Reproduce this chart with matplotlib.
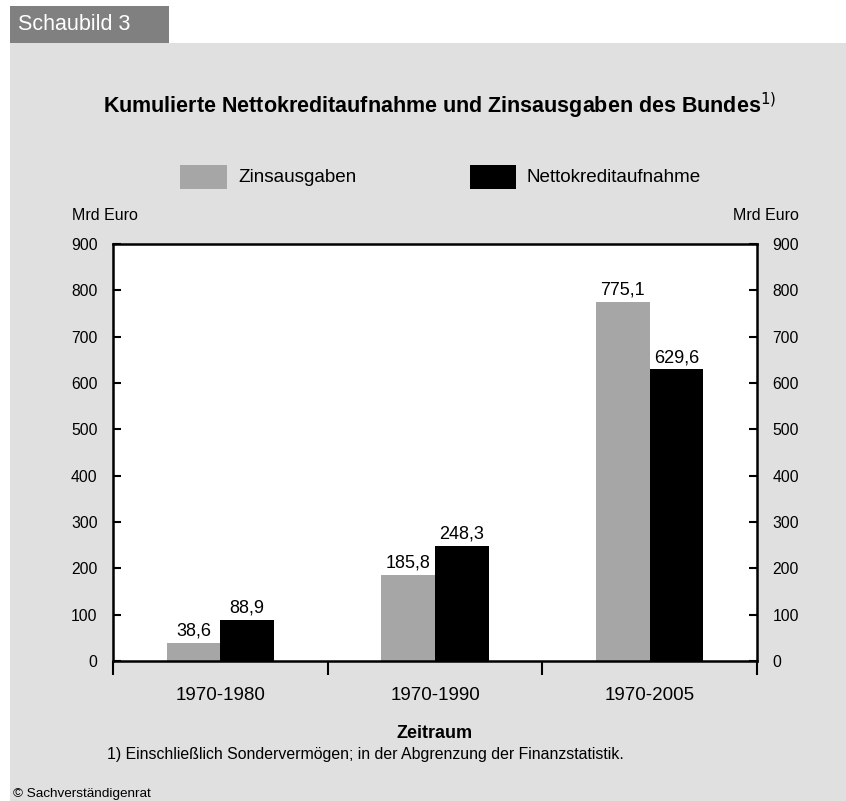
#!/usr/bin/env python3

import matplotlib

matplotlib.use("Agg")
import matplotlib.pyplot as plt
from matplotlib.patches import Rectangle

plt.rcParams["font.family"] = ["Liberation Sans", "DejaVu Sans"]

periods = ["1970-1980", "1970-1990", "1970-2005"]
zinsausgaben = [38.6, 185.8, 775.1]
nettokredit = [88.9, 248.3, 629.6]
y_ticks = [0, 100, 200, 300, 400, 500, 600, 700, 800, 900]

GRAY = "#a6a6a6"
PANEL = "#e0e0e0"

W, H = 846, 801
fig = plt.figure(figsize=(W / 100, H / 100), dpi=100)
fig.patch.set_facecolor("white")


def fx(px):
    return px / W


def fy(py):
    return 1 - py / H


# background panel and header tab
fig.patches.append(
    Rectangle((fx(10), 0), 1 - fx(10), fy(43), transform=fig.transFigure,
              facecolor=PANEL, edgecolor="none", zorder=-10)
)
fig.patches.append(
    Rectangle((fx(10), fy(43)), fx(169) - fx(10), fy(6) - fy(43),
              transform=fig.transFigure, facecolor="#808080", edgecolor="none",
              zorder=-10)
)
fig.text(fx(18), fy(25), "Schaubild 3", color="white", fontsize=15.5,
         va="center", ha="left")

fig.text(fx(103), fy(106), "Kumulierte Nettokreditaufnahme und Zinsausgaben des Bundes$^{1)}$",
         fontsize=15.5, fontweight="bold", ha="left", va="center")

# legend
fig.patches.append(
    Rectangle((fx(180), fy(189)), fx(227) - fx(180), fy(165) - fy(189),
              transform=fig.transFigure, facecolor=GRAY, edgecolor="none")
)
fig.text(fx(238), fy(177), "Zinsausgaben", fontsize=13.6, va="center", ha="left")
fig.patches.append(
    Rectangle((fx(470), fy(189)), fx(516) - fx(470), fy(165) - fy(189),
              transform=fig.transFigure, facecolor="black", edgecolor="none")
)
fig.text(fx(527), fy(177), "Nettokreditaufnahme", fontsize=13.6, va="center", ha="left")

fig.text(fx(72), fy(215), "Mrd Euro", fontsize=11.5, va="center", ha="left")
fig.text(fx(799), fy(215), "Mrd Euro", fontsize=11.5, va="center", ha="right")

ax = fig.add_axes([fx(113), fy(661), fx(757) - fx(113), fy(244) - fy(661)])
ax.set_facecolor("white")

centers = [i + 0.5 for i in range(len(periods))]
bw = 0.25
b1 = ax.bar([c - bw / 2 for c in centers], zinsausgaben, width=bw, color=GRAY)
b2 = ax.bar([c + bw / 2 for c in centers], nettokredit, width=bw, color="black")

for bars, vals in [(b1, zinsausgaben), (b2, nettokredit)]:
    for rect, v in zip(bars, vals):
        ax.text(rect.get_x() + rect.get_width() / 2, v + 7,
                f"{v:.1f}".replace(".", ","), ha="center", va="bottom",
                fontsize=13)

ax.set_xlim(0, 3)
ax.set_ylim(0, 900)
ax.set_yticks(y_ticks)
ax.set_xticks([0, 1, 2, 3])
ax.set_xticklabels([])
ax.set_xticks(centers, minor=True)
ax.set_xticklabels(periods, minor=True)

for s in ax.spines.values():
    s.set_linewidth(1.8)

ax.tick_params(axis="y", direction="in", length=6, width=1.5, left=True,
               right=True, labelleft=True, labelright=True, labelsize=11.3, pad=11)
ax.tick_params(axis="x", which="major", direction="out", length=10, width=1.5)
ax.tick_params(axis="x", which="minor", length=0, labelsize=13.5, pad=19)

fig.text(fx(435), fy(733), "Zeitraum", fontsize=13, fontweight="bold",
         ha="center", va="center")
fig.text(fx(107), fy(754),
         "1) Einschließlich Sondervermögen; in der Abgrenzung der Finanzstatistik.",
         fontsize=11.4, ha="left", va="center")
fig.text(fx(13), fy(794), "© Sachverständigenrat", fontsize=9.7, ha="left",
         va="center")

fig.savefig("out.png", dpi=100, facecolor=fig.get_facecolor())
